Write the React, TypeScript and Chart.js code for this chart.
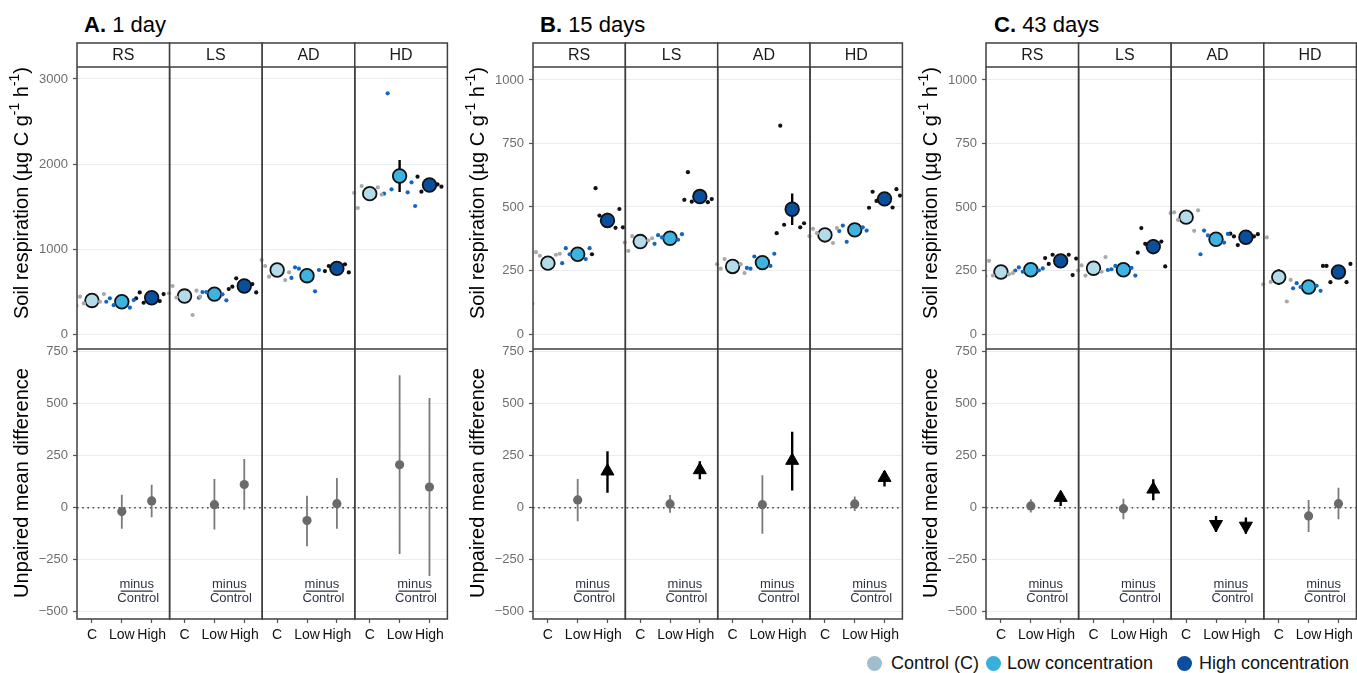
import React, { useEffect, useRef } from "react";
import { Chart, registerables } from "chart.js";

Chart.register(...registerables);

const FONT = "'Liberation Sans', Arial, Helvetica, sans-serif";
Chart.defaults.font.family = FONT;

// ---------------- data ----------------
const FACETS = ["RS", "LS", "AD", "HD"];
const GROUPS = ["C", "Low", "High"];
const PANEL_LETTERS = ["A.", "B.", "C."];
const PANEL_TITLES = ["1 day", "15 days", "43 days"];
const LEGEND_LABELS = ["Control (C)", "Low concentration", "High concentration"];

// Soil respiration replicates [facet][group][replicate]
const RAW_1D = [
  [[440, 470, 360, 380, 335], [420, 400, 340, 310, 380], [490, 470, 368, 388, 420]],
  [[565, 510, 430, 224, 480, 440], [494, 396, 494, 467, 427], [557, 490, 655, 588, 530]],
  [[800, 726, 675, 635, 870], [785, 753, 769, 502, 660], [741, 725, 800, 820]],
  [[1482, 1640, 1741, 1725, 1660], [2831, 1784, 1702, 1667, 1651, 1506], [1851, 1733, 1675, 1760]],
];
const RAW_15D = [
  [[322, 316, 308, 312, 120], [338, 338, 314, 295, 279], [574, 492, 466, 418, 314, 420]],
  [[327, 377, 385, 368, 360], [389, 393, 380, 371, 355], [637, 531, 521, 519, 528]],
  [[257, 240, 295, 275, 275], [257, 316, 305, 268, 260], [820, 436, 430, 420, 397]],
  [[414, 417, 397, 358, 385], [427, 407, 363, 420, 405], [560, 570, 524, 498, 497, 545]],
];
const RAW_43D = [
  [[288, 240, 230, 235, 228], [262, 258, 245, 250, 250], [276, 232, 312, 312, 299, 297]],
  [[270, 303, 230, 245, 250], [255, 230, 268, 260, 252], [417, 266, 355, 364, 320]],
  [[479, 487, 449, 406, 476], [407, 394, 388, 360, 314], [384, 393, 350, 384, 395]],
  [[380, 213, 205, 128, 195], [200, 170, 185, 190, 180], [268, 276, 204, 204, 268]],
];

// group means [facet][group]
const MEAN_1D = [[395, 380, 427], [447, 470, 565], [753, 686, 772], [1651, 1859, 1753]];
const MEAN_15D = [[279, 314, 447], [364, 377, 541], [266, 281, 491], [390, 410, 532]];
const MEAN_43D = [[244, 253, 288], [259, 253, 344], [460, 373, 381], [224, 185, 244]];

// error bar half-lengths [facet][group]
const ERR_1D = [[30, 20, 25], [50, 20, 30], [45, 55, 30], [40, 188, 40]];
const ERR_15D = [[23, 18, 30], [12, 10, 22], [12, 15, 62], [14, 15, 15]];
const ERR_43D = [[12, 8, 15], [12, 8, 30], [14, 15, 10], [31, 12, 18]];

// unpaired mean difference vs control [facet][Low, High]
const DIFF_1D = [[-19, 32], [14, 111], [-62, 19], [206, 99]];
const CI_LO_1D = [[-102, -46], [-105, -10], [-185, -102], [-223, -328]];
const CI_HI_1D = [[62, 110], [137, 234], [57, 142], [636, 527]];

const DIFF_15D = [[37, 175], [18, 181], [14, 226], [18, 144]];
const CI_LO_15D = [[-66, 71], [-25, 136], [-126, 82], [-16, 102]];
const CI_HI_15D = [[138, 271], [61, 223], [155, 365], [54, 176]];

const DIFF_43D = [[8, 48], [-5, 88], [-80, -88], [-40, 19]];
const CI_LO_43D = [[-24, 8], [-56, 35], [-117, -125], [-117, -56]];
const CI_HI_43D = [[40, 75], [43, 136], [-40, -48], [37, 96]];

// axes
const TOP_TICKS_1D = [0, 1000, 2000, 3000];
const TOP_TICKS_LATER = [0, 250, 500, 750, 1000];
const TOP_RANGE_1D = [-176, 3141];
const TOP_RANGE_LATER = [-59, 1051];
const DIFF_TICKS = [-500, -250, 0, 250, 500, 750];
const DIFF_RANGE = [-535, 762];

const RAW = [RAW_1D, RAW_15D, RAW_43D];
const MEAN = [MEAN_1D, MEAN_15D, MEAN_43D];
const ERR = [ERR_1D, ERR_15D, ERR_43D];
const DIFF = [DIFF_1D, DIFF_15D, DIFF_43D];
const CI_LO = [CI_LO_1D, CI_LO_15D, CI_LO_43D];
const CI_HI = [CI_HI_1D, CI_HI_15D, CI_HI_43D];
const TOP_TICKS = [TOP_TICKS_1D, TOP_TICKS_LATER, TOP_TICKS_LATER];
const TOP_RANGE = [TOP_RANGE_1D, TOP_RANGE_LATER, TOP_RANGE_LATER];

// ---------------- styling / layout ----------------
const MEAN_COLORS = ["#b4dbea", "#3db3e0", "#0a4f9e"];
const RAW_COLORS = ["#a9a9a9", "#1466c0", "#111111"];
const LEGEND_COLORS = ["#9fbdcd", "#3aafdb", "#0b4ea0"];
const FACET_SPAN = 3.1;
const JITTER = [-0.4, 0.4, -0.27, 0.27, -0.52, 0.52];
const CANVAS_LEFT = [0, 456, 909];
const CANVAS_WIDTH = [456, 455, 456];
const PAD_RIGHT = [3, 3, 2.5];
const BORDER = "#3f3f3f";

type Pt = { x: number; y: number | null };

function catX(f: number, g: number) {
  return f * FACET_SPAN + 0.5 + g;
}

function fmtTick(v: number) {
  return v < 0 ? "\u2212" + Math.abs(v) : String(v);
}

function buildDatasets(p: number) {
  const raw = RAW[p], mean = MEAN[p], err = ERR[p];
  const diff = DIFF[p], lo = CI_LO[p], hi = CI_HI[p];
  const ds: any[] = [];
  ds.push({
    label: "zero",
    data: [{ x: 0, y: 0 }, { x: FACET_SPAN * FACETS.length, y: 0 }],
    yAxisID: "yd",
    showLine: true,
    borderColor: "#4a4a4a",
    borderWidth: 1.5,
    borderDash: [1.6, 3.6],
    pointRadius: 0,
    order: 30,
  });
  const eb: Pt[] = [];
  FACETS.forEach((_, f) =>
    GROUPS.forEach((__, g) => {
      const x = catX(f, g);
      eb.push({ x, y: mean[f][g] - err[f][g] }, { x, y: mean[f][g] + err[f][g] }, { x, y: null });
    })
  );
  ds.push({
    label: "sd",
    data: eb,
    yAxisID: "yr",
    showLine: true,
    spanGaps: false,
    borderColor: "#000",
    borderWidth: 2.4,
    pointRadius: 0,
    order: 25,
  });
  GROUPS.forEach((_, g) => {
    ds.push({
      label: "mean" + g,
      data: FACETS.map((__, f) => ({ x: catX(f, g), y: mean[f][g] })),
      yAxisID: "yr",
      pointRadius: 6.8,
      pointBackgroundColor: MEAN_COLORS[g],
      pointBorderColor: "#111",
      pointBorderWidth: 1.8,
      order: 20,
    });
  });
  GROUPS.forEach((_, g) => {
    const pts: Pt[] = [];
    FACETS.forEach((__, f) =>
      raw[f][g].forEach((v, i) => pts.push({ x: catX(f, g) + JITTER[i], y: v }))
    );
    ds.push({
      label: "raw" + g,
      data: pts,
      yAxisID: "yr",
      pointRadius: 2.1,
      pointBackgroundColor: RAW_COLORS[g],
      pointBorderWidth: 0,
      order: 10,
    });
  });

  const ciGrey: Pt[] = [], ciBlack: Pt[] = [], dotGrey: Pt[] = [], triUp: Pt[] = [], triDown: Pt[] = [];
  FACETS.forEach((_, f) =>
    [0, 1].forEach((k) => {
      const x = catX(f, k + 1);
      const l = lo[f][k], h = hi[f][k], d = diff[f][k];
      const sig = l > 0 || h < 0;
      (sig ? ciBlack : ciGrey).push({ x, y: l }, { x, y: h }, { x, y: null });
      if (!sig) dotGrey.push({ x, y: d });
      else if (d > 0) triUp.push({ x, y: d });
      else triDown.push({ x, y: d });
    })
  );
  ds.push({ label: "ciGrey", data: ciGrey, yAxisID: "yd", showLine: true, spanGaps: false, borderColor: "#7a7a7a", borderWidth: 1.8, pointRadius: 0, order: 25 });
  ds.push({ label: "ciBlack", data: ciBlack, yAxisID: "yd", showLine: true, spanGaps: false, borderColor: "#000", borderWidth: 2.4, pointRadius: 0, order: 25 });
  ds.push({ label: "dot", data: dotGrey, yAxisID: "yd", pointRadius: 4.6, pointBackgroundColor: "#6a6a6a", pointBorderWidth: 0, order: 15 });
  ds.push({ label: "up", data: triUp, yAxisID: "yd", pointStyle: "triangle", pointRadius: 7.5, pointBackgroundColor: "#000", pointBorderColor: "#000", pointBorderWidth: 1, order: 15 });
  ds.push({ label: "down", data: triDown, yAxisID: "yd", pointStyle: "triangle", pointRotation: 180, pointRadius: 7.5, pointBackgroundColor: "#000", pointBorderColor: "#000", pointBorderWidth: 1, order: 15 });
  return ds;
}

function drawRich(ctx: CanvasRenderingContext2D, segs: { t: string; sup?: boolean }[], size: number) {
  const widths = segs.map((s) => {
    ctx.font = `${s.sup ? size * 0.7 : size}px ${FONT}`;
    return ctx.measureText(s.t).width;
  });
  const total = widths.reduce((a, b) => a + b, 0);
  let x = -total / 2;
  segs.forEach((s, i) => {
    ctx.font = `${s.sup ? size * 0.7 : size}px ${FONT}`;
    ctx.fillText(s.t, x, s.sup ? -size * 0.33 : 0);
    x += widths[i];
  });
}

function makeDecor() {
  return {
    id: "decor",
    afterDatasetsDraw(chart: any) {
      const { ctx, chartArea, scales } = chart;
      const xs = scales.x, yr = scales.yr, yd = scales.yd;
      const stripTop = chartArea.top - 24;
      ctx.save();
      // minus / Control labels
      ctx.fillStyle = "#2f3445";
      ctx.textAlign = "center";
      ctx.textBaseline = "middle";
      ctx.font = `13px ${FONT}`;
      FACETS.forEach((_, f) => {
        const cx = xs.getPixelForValue(catX(f, 1.5));
        ctx.fillText("minus", cx, yd.getPixelForValue(-367));
        ctx.fillText("Control", cx + 1.5, yd.getPixelForValue(-438));
        ctx.strokeStyle = "#2f3445";
        ctx.lineWidth = 1.3;
        ctx.beginPath();
        const ly = yd.getPixelForValue(-401);
        ctx.moveTo(cx - 16, ly);
        ctx.lineTo(cx + 16, ly);
        ctx.stroke();
      });
      // strips and facet frames
      ctx.lineWidth = 1.5;
      ctx.strokeStyle = BORDER;
      FACETS.forEach((name, f) => {
        const l = xs.getPixelForValue(f * FACET_SPAN);
        const r = xs.getPixelForValue((f + 1) * FACET_SPAN);
        ctx.fillStyle = "#fff";
        ctx.fillRect(l, stripTop, r - l, 24);
        ctx.strokeRect(l, stripTop, r - l, chartArea.bottom - stripTop);
        ctx.fillStyle = "#1a1a1a";
        ctx.font = `16px ${FONT}`;
        ctx.fillText(name, (l + r) / 2, stripTop + 12.5);
      });
      const x0 = xs.getPixelForValue(0);
      const x1 = xs.getPixelForValue(FACET_SPAN * FACETS.length);
      ctx.beginPath();
      ctx.moveTo(x0, chartArea.top);
      ctx.lineTo(x1, chartArea.top);
      ctx.moveTo(x0, yr.bottom);
      ctx.lineTo(x1, yr.bottom);
      ctx.stroke();
      // axis titles
      ctx.fillStyle = "#000";
      ctx.textAlign = "left";
      ctx.save();
      ctx.translate(chartArea.left - 55, (stripTop + yr.bottom) / 2 - 3);
      ctx.rotate(-Math.PI / 2);
      drawRich(
        ctx,
        [
          { t: "Soil respiration (\u00b5g C g" },
          { t: "-1", sup: true },
          { t: " h" },
          { t: "-1", sup: true },
          { t: ")" },
        ],
        20
      );
      ctx.restore();
      ctx.save();
      ctx.translate(chartArea.left - 55, (yd.top + yd.bottom) / 2 - 1);
      ctx.rotate(-Math.PI / 2);
      drawRich(ctx, [{ t: "Unpaired mean difference" }], 20);
      ctx.restore();
      ctx.restore();
    },
  };
}

function yAxis(ticks: number[], range: number[], weight: number) {
  return {
    type: "linear",
    position: "left",
    stack: "panel",
    stackWeight: weight,
    min: range[0],
    max: range[1],
    afterBuildTicks: (s: any) => {
      s.ticks = ticks.map((v) => ({ value: v }));
    },
    afterFit: (s: any) => {
      s.width = 77;
      s.paddingTop = 0;
      s.paddingBottom = 0;
    },
    ticks: { callback: (v: number) => fmtTick(v), color: "#6e6e6e", font: { size: 13, family: FONT }, padding: 5 },
    grid: { color: "#ececec", lineWidth: 1, drawTicks: true, tickLength: 4, tickColor: "#555", tickWidth: 1.2 },
    border: { display: false },
  };
}

function Panel({ p }: { p: number }) {
  const ref = useRef<HTMLCanvasElement | null>(null);
  useEffect(() => {
    if (!ref.current) return;
    const xTicks: number[] = [];
    FACETS.forEach((_, f) => GROUPS.forEach((__, g) => xTicks.push(catX(f, g))));
    const chart = new Chart(ref.current, {
      type: "scatter",
      data: { datasets: buildDatasets(p) },
      plugins: [makeDecor()],
      options: {
        responsive: false,
        animation: false,
        events: [],
        layout: { padding: { top: 27, right: PAD_RIGHT[p], left: 0, bottom: 0 } },
        plugins: { legend: { display: false }, tooltip: { enabled: false } },
        scales: {
          x: {
            type: "linear",
            min: 0,
            max: FACET_SPAN * FACETS.length,
            afterBuildTicks: (s: any) => {
              s.ticks = xTicks.map((v) => ({ value: v }));
            },
            afterFit: (s: any) => {
              s.height = 31;
              s.paddingLeft = 0;
              s.paddingRight = 0;
            },
            ticks: {
              callback: (_v: number, i: number) => GROUPS[i % GROUPS.length],
              autoSkip: false,
              maxRotation: 0,
              color: "#111",
              font: { size: 14, family: FONT },
              padding: 4,
            },
            grid: { drawOnChartArea: false, drawTicks: true, tickLength: 4, tickColor: "#555", tickWidth: 1.2 },
            border: { display: false },
          },
          yd: yAxis(DIFF_TICKS, DIFF_RANGE, 270),
          yr: yAxis(TOP_TICKS[p], TOP_RANGE[p], 282),
        },
      } as any,
    } as any);
    return () => chart.destroy();
  }, [p]);
  return (
    <canvas
      ref={ref}
      width={CANVAS_WIDTH[p]}
      height={610}
      style={{ position: "absolute", left: CANVAS_LEFT[p], top: 40, width: CANVAS_WIDTH[p], height: 610 }}
    />
  );
}

const TITLE_LEFT = [84, 540, 994];
const LEGEND_CIRCLE_X = [874, 993, 1184];
const LEGEND_TEXT_X = [891, 1007, 1199];

export default function App() {
  return (
    <div
      style={{
        position: "fixed",
        left: 0,
        top: 0,
        width: 1357,
        height: 673,
        background: "#fff",
        overflow: "hidden",
        fontFamily: FONT,
      }}
    >
      {PANEL_LETTERS.map((_, p) => (
        <Panel key={p} p={p} />
      ))}
      {PANEL_LETTERS.map((letter, p) => (
        <div
          key={"t" + p}
          style={{ position: "absolute", left: TITLE_LEFT[p], top: 14, fontSize: 22, lineHeight: "22px", color: "#000", whiteSpace: "nowrap" }}
        >
          <b>{letter}</b> {PANEL_TITLES[p]}
        </div>
      ))}
      {LEGEND_LABELS.map((lab, i) => (
        <React.Fragment key={"l" + i}>
          <div
            style={{
              position: "absolute",
              left: LEGEND_CIRCLE_X[i] - 7.5,
              top: 663 - 7.5,
              width: 15,
              height: 15,
              borderRadius: "50%",
              background: LEGEND_COLORS[i],
            }}
          />
          <div
            style={{ position: "absolute", left: LEGEND_TEXT_X[i], top: 654, fontSize: 18, lineHeight: "18px", color: "#111", whiteSpace: "nowrap" }}
          >
            {lab}
          </div>
        </React.Fragment>
      ))}
    </div>
  );
}
